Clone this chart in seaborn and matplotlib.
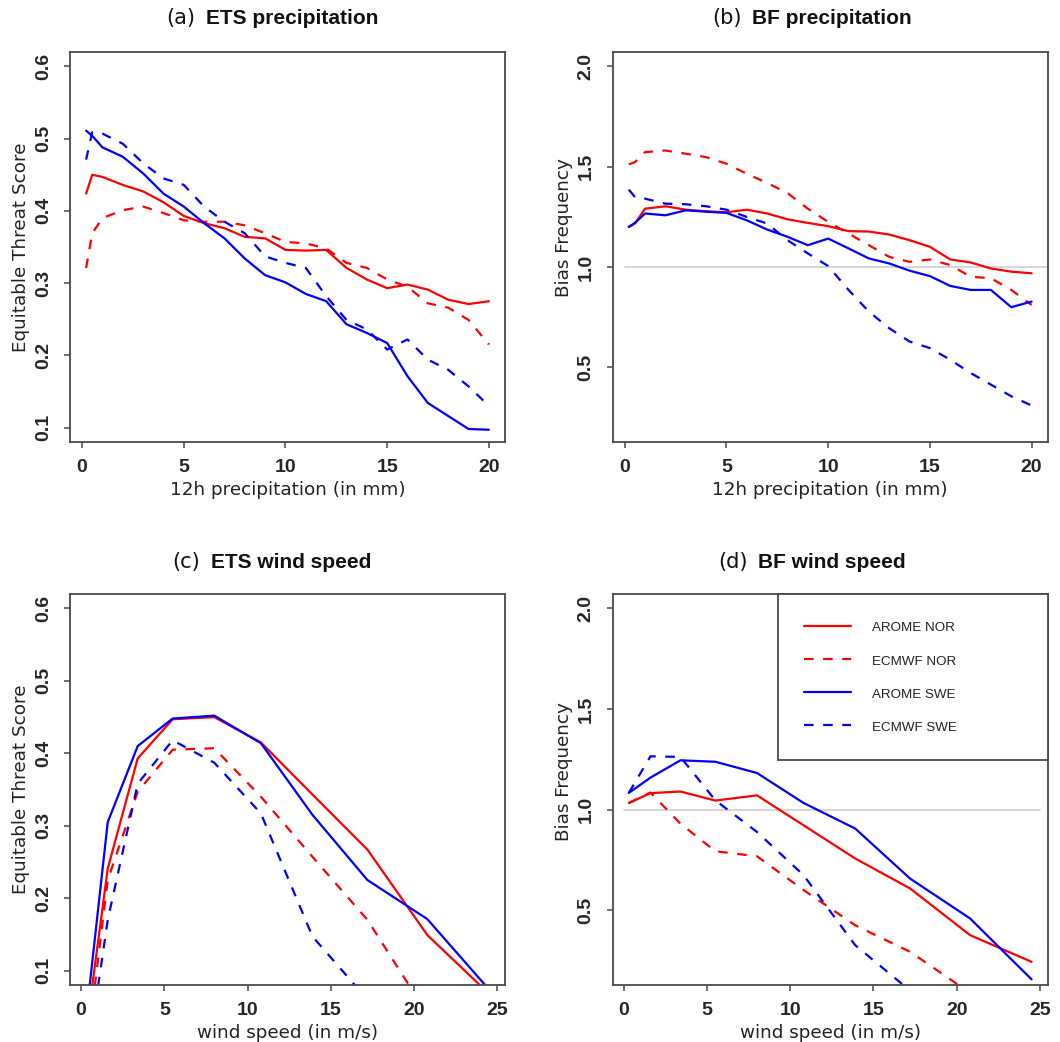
import numpy as np
import pandas as pd
import matplotlib
matplotlib.use("Agg")
import matplotlib.pyplot as plt
from matplotlib.lines import Line2D
from matplotlib.ticker import FormatStrFormatter, FixedLocator
from matplotlib.offsetbox import TextArea, HPacker, AnnotationBbox
import seaborn as sns

# ---------------- data ----------------
models = ["AROME NOR", "ECMWF NOR", "AROME SWE", "ECMWF SWE"]

precip_thr = [0.2, 0.5, 1, 2, 3, 4, 5, 6, 7, 8, 9, 10, 11, 12, 13, 14, 15, 16, 17, 18, 19, 20]
wind_thr = [0.3, 1.6, 3.4, 5.5, 8.0, 10.8, 13.9, 17.2, 20.8, 24.5]

# (a) ETS precipitation
ets_p_arome_nor = [0.424, 0.450, 0.447, 0.436, 0.427, 0.412, 0.393, 0.383, 0.376, 0.364, 0.362, 0.346,
                   0.345, 0.346, 0.321, 0.305, 0.293, 0.298, 0.291, 0.277, 0.271, 0.275]
ets_p_ecmwf_nor = [0.321, 0.369, 0.390, 0.401, 0.406, 0.397, 0.387, 0.385, 0.385, 0.380, 0.369, 0.357,
                   0.355, 0.348, 0.328, 0.321, 0.305, 0.295, 0.272, 0.266, 0.249, 0.215]
ets_p_arome_swe = [0.511, 0.504, 0.488, 0.475, 0.452, 0.424, 0.406, 0.383, 0.362, 0.334, 0.311, 0.301,
                   0.285, 0.275, 0.243, 0.231, 0.217, 0.171, 0.134, 0.116, 0.098, 0.097]
ets_p_ecmwf_swe = [0.471, 0.509, 0.507, 0.493, 0.466, 0.445, 0.436, 0.406, 0.385, 0.369, 0.337, 0.328,
                   0.321, 0.282, 0.249, 0.236, 0.208, 0.222, 0.194, 0.180, 0.157, 0.130]

# (b) BF precipitation
bf_p_arome_nor = [1.200, 1.217, 1.291, 1.303, 1.286, 1.278, 1.273, 1.286, 1.267, 1.238, 1.220, 1.204,
                  1.179, 1.177, 1.162, 1.134, 1.101, 1.038, 1.023, 0.993, 0.977, 0.969]
bf_p_ecmwf_nor = [1.512, 1.523, 1.573, 1.581, 1.565, 1.548, 1.515, 1.465, 1.419, 1.369, 1.291, 1.225,
                  1.167, 1.109, 1.051, 1.026, 1.038, 1.010, 0.952, 0.944, 0.886, 0.811]
bf_p_arome_swe = [1.200, 1.220, 1.267, 1.258, 1.283, 1.276, 1.270, 1.233, 1.187, 1.151, 1.109, 1.142,
                  1.093, 1.043, 1.018, 0.982, 0.955, 0.906, 0.886, 0.886, 0.800, 0.828]
bf_p_ecmwf_swe = [1.386, 1.349, 1.341, 1.316, 1.313, 1.303, 1.286, 1.250, 1.217, 1.134, 1.068, 1.005,
                  0.886, 0.778, 0.695, 0.629, 0.596, 0.538, 0.472, 0.414, 0.356, 0.310]

# (c) ETS wind speed
ets_w_arome_nor = [0.015, 0.241, 0.393, 0.447, 0.450, 0.415, 0.343, 0.267, 0.149, 0.068]
ets_w_ecmwf_nor = [-0.020, 0.225, 0.347, 0.405, 0.407, 0.340, 0.257, 0.170, 0.040, 0.000]
ets_w_arome_swe = [0.035, 0.305, 0.410, 0.448, 0.452, 0.414, 0.315, 0.225, 0.171, 0.074]
ets_w_ecmwf_swe = [-0.035, 0.170, 0.358, 0.418, 0.387, 0.317, 0.147, 0.060, 0.010, -0.010]

# (d) BF wind speed
bf_w_arome_nor = [1.033, 1.082, 1.090, 1.045, 1.071, 0.922, 0.757, 0.608, 0.376, 0.243]
bf_w_ecmwf_nor = [1.033, 1.085, 0.930, 0.793, 0.768, 0.600, 0.425, 0.293, 0.089, 0.030]
bf_w_arome_swe = [1.083, 1.159, 1.245, 1.238, 1.182, 1.033, 0.906, 0.657, 0.459, 0.156]
bf_w_ecmwf_swe = [1.083, 1.265, 1.262, 1.046, 0.889, 0.674, 0.326, 0.100, 0.020, 0.000]

precip_xticks = [0, 5, 10, 15, 20]
wind_xticks = [0, 5, 10, 15, 20, 25]
ets_yticks = [0.1, 0.2, 0.3, 0.4, 0.5, 0.6]
bf_yticks = [0.5, 1.0, 1.5, 2.0]
ets_yrange = [0.1, 0.6]
bf_yrange = [0.2, 2.0]

titles = [("(a)", "ETS precipitation"), ("(b)", "BF precipitation"),
          ("(c)", "ETS wind speed"), ("(d)", "BF wind speed")]
xlabels = ["12h precipitation (in mm)", "12h precipitation (in mm)",
           "wind speed (in m/s)", "wind speed (in m/s)"]
ylabels = ["Equitable Threat Score", "Bias Frequency", "Equitable Threat Score", "Bias Frequency"]

# ---------------- style ----------------
sns.set_style("ticks")
plt.rcParams["font.family"] = ["DejaVu Sans"]

colors = {"AROME NOR": "#ff0000", "ECMWF NOR": "#ff0000", "AROME SWE": "#0000ff", "ECMWF SWE": "#0000ff"}
dash_pat = (4.3, 4.3)
dashes = {"AROME NOR": "", "ECMWF NOR": dash_pat, "AROME SWE": "", "ECMWF SWE": dash_pat}
LW = 1.6
FRAME = "#4a4a4a"


def make_df(x, series):
    rows = []
    for m, vals in zip(models, series):
        for xi, yi in zip(x, vals):
            rows.append({"x": xi, "y": yi, "model": m})
    return pd.DataFrame(rows)


def rlim(lo, hi):
    d = 0.04 * (hi - lo)
    return lo - d, hi + d


W, H = 1060, 1042
fig = plt.figure(figsize=(W / 100, H / 100), dpi=100)

boxes = [
    (70, 52, 435, 390),
    (612.7, 52, 435, 390),
    (70, 594, 435, 391),
    (612.7, 594, 435, 391),
]

panels = [
    (precip_thr, [ets_p_arome_nor, ets_p_ecmwf_nor, ets_p_arome_swe, ets_p_ecmwf_swe], precip_xticks, ets_yticks, ets_yrange, False),
    (precip_thr, [bf_p_arome_nor, bf_p_ecmwf_nor, bf_p_arome_swe, bf_p_ecmwf_swe], precip_xticks, bf_yticks, bf_yrange, True),
    (wind_thr, [ets_w_arome_nor, ets_w_ecmwf_nor, ets_w_arome_swe, ets_w_ecmwf_swe], wind_xticks, ets_yticks, ets_yrange, False),
    (wind_thr, [bf_w_arome_nor, bf_w_ecmwf_nor, bf_w_arome_swe, bf_w_ecmwf_swe], wind_xticks, bf_yticks, bf_yrange, True),
]

title_centers = [(272, 18), (812, 18), (272, 562), (812, 562)]
ylabel_frac = [0.5, 0.55, 0.5, 0.545]

axes = []
for i, ((l, t, w, h), (xv, series, xt, yt, yr, isbf)) in enumerate(zip(boxes, panels)):
    ax = fig.add_axes([l / W, 1 - (t + h) / H, w / W, h / H])
    axes.append(ax)
    df = make_df(xv, series)
    if isbf:
        ax.plot([0, 25], [1, 1], color="#cfcfcf", lw=1.2, zorder=1)
    sns.lineplot(data=df, x="x", y="y", hue="model", style="model",
                 hue_order=models, style_order=models, palette=colors,
                 dashes=dashes, linewidth=LW, legend=False, ax=ax,
                 estimator=None, sort=False, zorder=2)
    ax.set_xlim(*rlim(min(xv), max(xv)))
    ax.set_ylim(*rlim(yr[0], yr[1]))
    ax.xaxis.set_major_locator(FixedLocator(xt))
    ax.yaxis.set_major_locator(FixedLocator(yt))
    ax.yaxis.set_major_formatter(FormatStrFormatter("%.1f"))
    ax.xaxis.set_major_formatter(FormatStrFormatter("%d"))
    for sp in ax.spines.values():
        sp.set_visible(True)
        sp.set_color(FRAME)
        sp.set_linewidth(1.3)
    ax.tick_params(axis="both", length=4.5, width=1.1, color=FRAME, direction="out")
    ax.tick_params(axis="x", pad=7.5)
    ax.tick_params(axis="y", pad=8.5, labelrotation=90)
    for lab in ax.get_xticklabels():
        lab.set_fontfamily("Liberation Sans")
        lab.set_fontweight("bold")
        lab.set_fontsize(14)
    for lab in ax.get_yticklabels():
        lab.set_fontfamily("Liberation Sans")
        lab.set_fontweight("bold")
        lab.set_fontsize(14)
        lab.set_va("center")
    ax.set_xlabel(xlabels[i], fontsize=13.2, color="#222222")
    ax.set_ylabel(ylabels[i], fontsize=13.2, color="#222222")
    ax.xaxis.set_label_coords(0.5, -48 / h)
    ax.xaxis.label.set_va("center")
    ax.yaxis.set_label_coords(-49 / w, ylabel_frac[i])
    ax.yaxis.label.set_va("center")

    # title: regular "(x)" + bold text
    pre, main = titles[i]
    ta = TextArea(pre, textprops=dict(fontsize=15, family="DejaVu Sans", color="#111111"))
    tb = TextArea(main, textprops=dict(fontsize=15, family="Liberation Sans", weight="bold", color="#111111"))
    pack = HPacker(children=[ta, tb], sep=8, pad=0, align="baseline")
    cx, cy = title_centers[i]
    ab = AnnotationBbox(pack, (cx / W, 1 - cy / H), xycoords="figure fraction",
                        box_alignment=(0.5, 0.5), frameon=False, annotation_clip=False)
    fig.add_artist(ab)

# legend in panel (d)
ax = axes[3]
handles = [Line2D([0], [0], color=colors[m], lw=LW,
                  linestyle="-" if dashes[m] == "" else (0, dashes[m])) for m in models]
leg = ax.legend(handles, models, loc="upper left",
                bbox_to_anchor=(0.38, 0.0, 0.62, 1.0), mode="expand", borderaxespad=0,
                frameon=True, fancybox=False, edgecolor=FRAME, framealpha=1,
                prop={"family": "Liberation Sans", "size": 9.6},
                handlelength=3.5, handleheight=1.2, handletextpad=1.6,
                labelspacing=1.42, borderpad=1.95)
leg.get_frame().set_linewidth(1.3)
for txt in leg.get_texts():
    txt.set_color("#222222")

fig.savefig("out.png", dpi=100, facecolor="white")
